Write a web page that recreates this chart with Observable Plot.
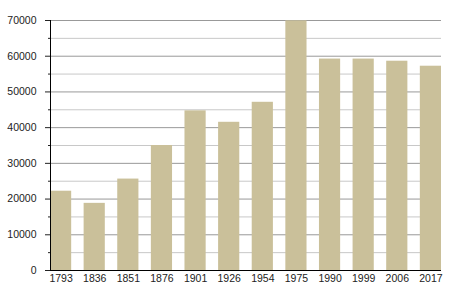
<!DOCTYPE html>
<html>
<head>
<meta charset="utf-8">
<script src="https://cdn.jsdelivr.net/npm/d3@7"></script>
<script src="https://cdn.jsdelivr.net/npm/@observablehq/plot@0.6"></script>
<style>
  html, body { margin: 0; padding: 0; background: #fff; }
</style>
</head>
<body>
<div id="chart"></div>
<script>
const years = ["1793","1836","1851","1876","1901","1926","1954","1975","1990","1999","2006","2017"];
const population = [22200, 18800, 25600, 35000, 44700, 41500, 47100, 69900, 59200, 59200, 58600, 57200];
const majorTicks = [0, 10000, 20000, 30000, 40000, 50000, 60000, 70000];
const minorTicks = [5000, 15000, 25000, 35000, 45000, 55000, 65000];

const data = years.map((y, i) => ({year: y, value: population[i]}));

const chart = Plot.plot({
  width: 450,
  height: 300,
  marginLeft: 50,
  marginRight: 9,
  marginTop: 20,
  marginBottom: 30,
  style: {fontFamily: "'Liberation Sans', Arial, sans-serif", fontSize: "10.5px", color: "#222", background: "#fff"},
  x: {domain: years, paddingInner: 0.37, paddingOuter: 0, round: false, axis: null, label: null},
  y: {domain: [0, 70000], axis: null, label: null},
  marks: [
    Plot.ruleY(minorTicks, {stroke: "#c8c8c8", strokeWidth: 1}),
    Plot.ruleY(majorTicks, {stroke: "#999", strokeWidth: 1}),
    Plot.barY(data, {x: "year", y: "value", fill: "#cac09a"}),
    Plot.axisY(minorTicks, {tickSize: 2, text: null, stroke: "#222", label: null}),
    Plot.axisY(majorTicks, {tickSize: 5, tickPadding: 9, tickFormat: d => String(d), stroke: "#222", fill: "#222", label: null}),
    Plot.axisX({tickSize: 0, tickPadding: 4, fill: "#222", label: null}),
    Plot.frame({anchor: "left", stroke: "#000"}),
    Plot.ruleY([0], {stroke: "#000", strokeWidth: 1.2})
  ]
});
document.getElementById("chart").appendChild(chart);
</script>
</body>
</html>
